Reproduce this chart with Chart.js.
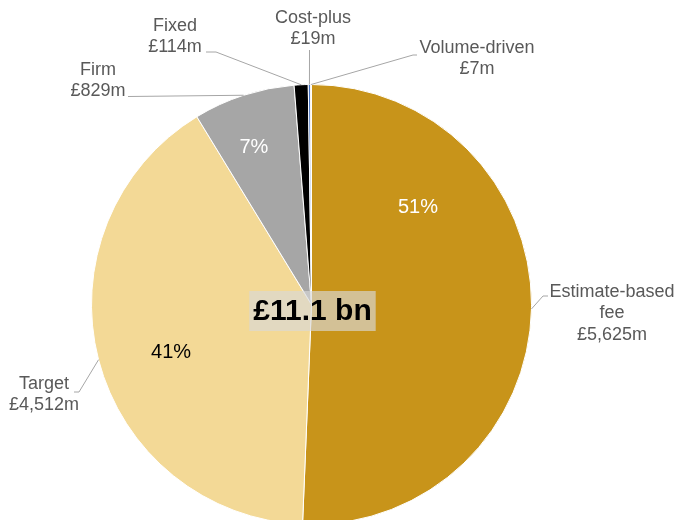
<!DOCTYPE html>
<html>
<head>
<meta charset="utf-8">
<script src="https://cdn.jsdelivr.net/npm/chart.js@4/dist/chart.umd.min.js"></script>
<style>
  html, body { margin: 0; padding: 0; background: #fff; overflow: hidden; }
  canvas { display: block; }
</style>
</head>
<body>
<canvas id="contractChart" width="685" height="520"></canvas>
<script>
// Contract types by value (£m)
const categories = [['Estimate-based', 'fee'], ['Target'], ['Firm'], ['Fixed'], ['Cost-plus'], ['Volume-driven']];
const values = [5625, 4512, 829, 114, 19, 7];
const totalLabel = '£11.1 bn';

const sliceColors = ['#C8941A', '#F3D996', '#A6A6A6', '#000000', '#4472C4', '#ED7D31'];

// percentage labels inside the big slices: [angle from top (deg), fraction of radius, colour]
const pctPlacement = [
    [47.5, 0.656, '#ffffff'],
    [251.3, 0.674, '#000000'],
    [339.9, 0.762, '#ffffff'],
    null, null, null
];

// outside labels: text centre, first line y, and leader path (from the arc outwards)
const calloutLayout = [
    { cx: 612, cy: 292, path: [[543, 296], [548, 296]] },
    { cx: 44, cy: 384, path: [[79, 392], [74, 392]] },
    { cx: 98, cy: 70, path: [[128, 96.5]] },
    { cx: 175, cy: 26, path: [[216, 52], [206, 52]] },
    { cx: 313, cy: 18, path: [[309.5, 50]] },
    { cx: 477, cy: 48, path: [[413, 55], [417, 55]] }
];

const total = values.reduce((a, b) => a + b, 0);

const calloutPlugin = {
    id: 'callouts',
    afterDatasetsDraw(chart) {
        const ctx = chart.ctx;
        const arcs = chart.getDatasetMeta(0).data;
        ctx.save();
        ctx.textAlign = 'center';
        ctx.textBaseline = 'middle';

        arcs.forEach((arc, i) => {
            const { x, y, startAngle, endAngle, outerRadius } =
                arc.getProps(['x', 'y', 'startAngle', 'endAngle', 'outerRadius'], true);

            // percentage inside slice
            const p = pctPlacement[i];
            if (p) {
                const a = p[0] * Math.PI / 180 - Math.PI / 2;
                const r = outerRadius * p[1];
                ctx.font = '20px "Liberation Sans", Arial, sans-serif';
                ctx.fillStyle = p[2];
                ctx.fillText(Math.round(values[i] / total * 100) + '%', x + Math.cos(a) * r, y + Math.sin(a) * r);
            }

            // leader line from the middle of the arc
            const mid = (startAngle + endAngle) / 2;
            const lay = calloutLayout[i];
            ctx.beginPath();
            ctx.moveTo(x + Math.cos(mid) * outerRadius, y + Math.sin(mid) * outerRadius);
            lay.path.forEach(pt => ctx.lineTo(pt[0], pt[1]));
            ctx.strokeStyle = '#A6A6A6';
            ctx.lineWidth = 1;
            ctx.stroke();

            // category name + value
            const lines = categories[i].concat(['£' + values[i].toLocaleString('en-GB') + 'm']);
            ctx.font = '18px "Liberation Sans", Arial, sans-serif';
            ctx.fillStyle = '#595959';
            lines.forEach((t, k) => ctx.fillText(t, lay.cx, lay.cy + k * 21.5));
        });

        // total in the middle on a translucent box
        const cx = chart.getDatasetMeta(0).data[0].x;
        const cy = chart.getDatasetMeta(0).data[0].y;
        ctx.font = 'bold 30px "Liberation Sans", Arial, sans-serif';
        const w = ctx.measureText(totalLabel).width + 8;
        ctx.fillStyle = 'rgba(217, 217, 217, 0.65)';
        ctx.fillRect(cx + 1 - w / 2, cy - 13.5, w, 40);
        ctx.fillStyle = '#000000';
        ctx.fillText(totalLabel, cx + 1, cy + 7);
        ctx.restore();
    }
};

new Chart(document.getElementById('contractChart'), {
    type: 'pie',
    data: {
        labels: categories,
        datasets: [{
            data: values,
            backgroundColor: sliceColors,
            borderColor: '#ffffff',
            borderWidth: 1,
            clip: false
        }]
    },
    options: {
        responsive: false,
        animation: false,
        radius: 220,
        layout: {
            padding: { top: 89, bottom: 0, left: 91.5, right: 153.5 }
        },
        plugins: {
            legend: { display: false },
            tooltip: { enabled: false }
        }
    },
    plugins: [calloutPlugin]
});
</script>
</body>
</html>
